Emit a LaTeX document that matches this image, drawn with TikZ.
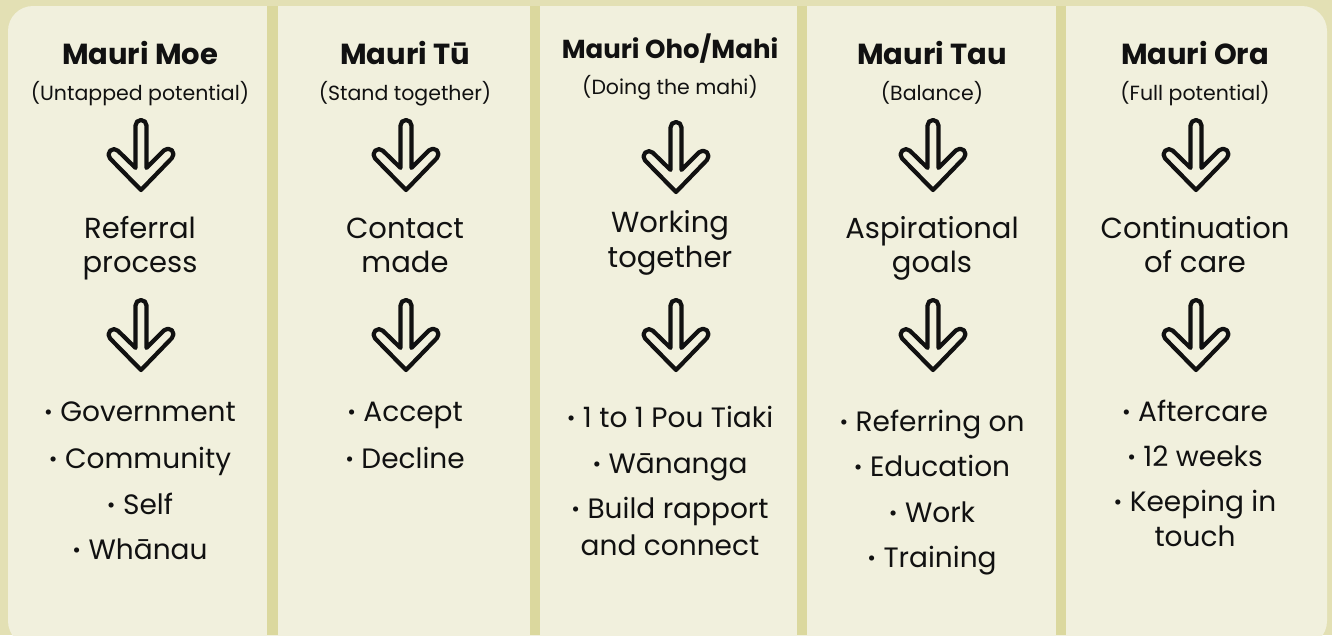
\documentclass[tikz,border=0pt]{standalone}
\usepackage{fontspec}
\setmainfont{Poppins}
\definecolor{sand}{HTML}{E3E0B4}
\definecolor{divider}{HTML}{DBD89E}
\definecolor{panel}{HTML}{F1F0DD}
\definecolor{ink}{HTML}{111111}
\tikzset{
  title/.style={font=\fontsize{29}{32}\selectfont\bfseries, anchor=base, inner sep=0pt, text=ink},
  smalltitle/.style={font=\fontsize{26}{29}\selectfont\bfseries, anchor=base, inner sep=0pt, text=ink},
  subtitle/.style={font=\fontsize{20.5}{24}\selectfont, anchor=base, inner sep=0pt, text=ink},
  stage/.style={font=\fontsize{29}{32}\selectfont, anchor=base, inner sep=0pt, text=ink},
  item/.style={font=\fontsize{28}{31}\selectfont, anchor=base, inner sep=0pt, text=ink},
  bar/.style={fill=divider, draw=none},
  pics/downarrow/.style={code={
    \draw[ink, line width=4.2pt, line join=round]
      (-5.5,-5.5) arc[start angle=180, end angle=0, radius=5.5]
      -- (5.5,-47.9) -- (23.1,-30.3)
      arc[start angle=135, end angle=-45, radius=5.5]
      -- (0,-70) -- (-30.9,-38.5)
      arc[start angle=225, end angle=45, radius=5.5]
      -- (-5.5,-47.9) -- cycle;
  }}
}
% small centred bullet in front of a list entry
\newcommand{\bul}{{\raisebox{0.06em}{\scalebox{0.75}{•}}}\ }
\begin{document}
\begin{tikzpicture}[x=1pt, y=1pt]
  \useasboundingbox (0,0) rectangle (1332,-635);
  % background and main panel
  \fill[sand] (0,0) rectangle (1332,-635);
  \begin{scope}
    \clip (0,0) rectangle (1332,-635);
    \fill[panel, rounded corners=25pt] (8,-6) rectangle (1327,-646);
  \end{scope}
  % column dividers
  \fill[bar] (267,-6) rectangle (278,-635);
  \fill[bar] (530,-6) rectangle (540,-635);
  \fill[bar] (797,-6) rectangle (807,-635);
  \fill[bar] (1056,-6) rectangle (1066,-635);

  % column 1
  \node[title] (t1) at (140,-64) {Mauri Moe};
  \node[subtitle] (s1) at (140,-100) {(Untapped potential)};
  \pic at (141,-120) {downarrow};
  \node[stage] (a1) at (140,-238) {Referral};
  \node[stage] (b1) at (140,-272) {process};
  \pic at (141,-300) {downarrow};
  \node[item] (i11) at (140,-421) {\bul Government};
  \node[item] (i12) at (140,-468) {\bul Community};
  \node[item] (i13) at (140,-514) {\bul Self};
  \node[item] (i14) at (140,-559) {\bul Whānau};

  % column 2
  \node[title] (t2) at (405,-64) {Mauri Tū};
  \node[subtitle] (s2) at (405,-100) {(Stand together)};
  \pic at (406,-120) {downarrow};
  \node[stage] (a2) at (405,-238) {Contact};
  \node[stage] (b2) at (405,-272) {made};
  \pic at (406,-300) {downarrow};
  \node[item] (i21) at (405,-421) {\bul Accept};
  \node[item] (i22) at (405,-468) {\bul Decline};

  % column 3
  \node[smalltitle] (t3) at (670,-58) {Mauri Oho/Mahi};
  \node[subtitle] (s3) at (670,-94) {(Doing the mahi)};
  \pic at (676,-122) {downarrow};
  \node[stage] (a3) at (670,-232) {Working};
  \node[stage] (b3) at (670,-267) {together};
  \pic at (676,-300) {downarrow};
  \node[item] (i31) at (670,-427) {\bul 1 to 1 Pou Tiaki};
  \node[item] (i32) at (670,-473) {\bul Wānanga};
  \node[item] (i33) at (670,-518) {\bul Build rapport};
  \node[item] (i34) at (670,-555) {and connect};

  % column 4
  \node[title] (t4) at (932,-64) {Mauri Tau};
  \node[subtitle] (s4) at (932,-100) {(Balance)};
  \pic at (933,-120) {downarrow};
  \node[stage] (a4) at (932,-238) {Aspirational};
  \node[stage] (b4) at (932,-272) {goals};
  \pic at (933,-300) {downarrow};
  \node[item] (i41) at (932,-431) {\bul Referring on};
  \node[item] (i42) at (932,-476) {\bul Education};
  \node[item] (i43) at (932,-522) {\bul Work};
  \node[item] (i44) at (932,-567) {\bul Training};

  % column 5
  \node[title] (t5) at (1195,-64) {Mauri Ora};
  \node[subtitle] (s5) at (1195,-100) {(Full potential)};
  \pic at (1196,-120) {downarrow};
  \node[stage] (a5) at (1195,-238) {Continuation};
  \node[stage] (b5) at (1195,-272) {of care};
  \pic at (1196,-300) {downarrow};
  \node[item] (i51) at (1195,-421) {\bul Aftercare};
  \node[item] (i52) at (1195,-466) {\bul 12 weeks};
  \node[item] (i53) at (1195,-511) {\bul Keeping in};
  \node[item] (i54) at (1195,-546) {touch};
\end{tikzpicture}
\end{document}
